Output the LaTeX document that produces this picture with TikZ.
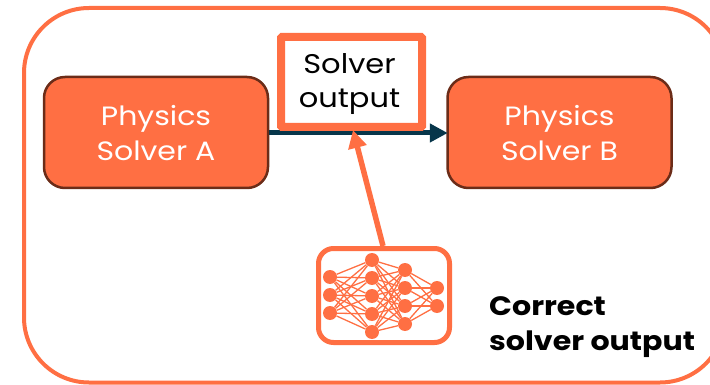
\documentclass[tikz,border=0pt]{standalone}
\usepackage{fontspec}
\setmainfont{Poppins}
\newfontfamily\widefont[FakeStretch=1.13]{Poppins}
\usetikzlibrary{arrows.meta}
\definecolor{orng}{HTML}{FF6F43}
\definecolor{brn}{HTML}{6B2C18}
\definecolor{navy}{HTML}{07364A}
\tikzset{
  x=1pt,y=-1pt,
  solver/.style={draw=brn,line width=2.5pt,fill=orng,rounded corners=21pt,minimum width=224pt,minimum height=111pt,inner sep=0pt},
  solvertext/.style={text=white,font=\widefont\fontsize{26.5}{35}\selectfont,align=center,inner sep=0pt,yshift=-1pt},
  outbox/.style={draw=orng,line width=8pt,fill=white,rounded corners=1pt,minimum width=141pt,minimum height=90pt,inner sep=0pt},
  outtext/.style={font=\widefont\fontsize{27}{34}\selectfont,align=center,inner sep=0pt,yshift=-2pt,xshift=-2pt},
  nnbox/.style={draw=orng,line width=5pt,rounded corners=15pt,minimum width=131pt,minimum height=94pt,inner sep=0pt},
  neuron/.style={circle,fill=orng,minimum size=14pt,inner sep=0pt},
  syn/.style={draw=orng,line width=1.3pt},
  lbl/.style={font=\widefont\fontsize{26.6}{35}\selectfont\bfseries,align=left,anchor=west,inner sep=0pt},
}
\begin{document}
\begin{tikzpicture}
\useasboundingbox (0,0) rectangle (710,385);
\clip (0,0) rectangle (710,385);
\draw[orng,line width=4pt,rounded corners=65pt] (24,8) rectangle (725,382.5);
\node[solver,label={[solvertext]center:{Physics\\Solver A}}] (A) at (156,132.5) {};
\node[solver,label={[solvertext]center:{Physics\\Solver B}}] (B) at (559.5,132.5) {};
\draw[navy,line width=5pt,shorten >=-1.5pt,-{Triangle[length=18pt,width=18pt]}] (A.east |- 0,133) -- (B.west |- 0,133);
\node[outbox,label={[outtext]center:{Solver\\output}}] (S) at (351.5,82) {};
\node[nnbox] (N) at (384,295.5) {};
\foreach \n/\x/\y in {a1/330/277,a2/330/295,a3/330/313,
 b1/372/260,b2/372/278,b3/372/296,b4/372/314,b5/372/332,
 c1/405/270,c2/405/288,c3/405/306,c4/405/324,
 d1/437/288,d2/437/306}
  \node[neuron] (\n) at (\x,\y) {};
\foreach \i in {1,2,3} \foreach \j in {1,...,5} \draw[syn] (a\i) -- (b\j);
\foreach \i in {1,...,5} \foreach \j in {1,...,4} \draw[syn] (b\i) -- (c\j);
\foreach \i in {1,...,4} \foreach \j in {1,2} \draw[syn] (c\i) -- (d\j);
\coordinate (tip) at (353,130);
\draw[orng,line width=5.5pt,-{Triangle[length=18pt,width=18pt]}] (383,246) -- (tip);
\node[lbl] (L) at (489,327.5) {Correct\\solver output};
\end{tikzpicture}
\end{document}
